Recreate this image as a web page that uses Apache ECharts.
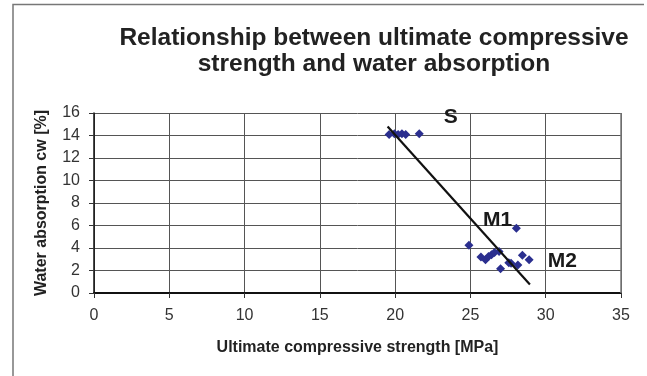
<!DOCTYPE html>
<html><head><meta charset="utf-8">
<script src="https://cdn.jsdelivr.net/npm/echarts@6/dist/echarts.min.js"></script>
<style>html,body{margin:0;padding:0;background:#fff}#c{width:647px;height:376px}</style>
</head><body><div id="c"></div>
<script>
const titleText = 'Relationship between ultimate compressive\nstrength and water absorption';
const xName = 'Ultimate compressive strength [MPa]';
const yName = 'Water absorption cw [%]';
const xTicks = [0, 5, 10, 15, 20, 25, 30, 35];
const yTicks = [0, 2, 4, 6, 8, 10, 12, 14, 16];
// S group points [strength, absorption]
const groupS = [[19.6, 14.1], [19.95, 14.15], [20.2, 14.1], [20.45, 14.15], [20.7, 14.1], [21.6, 14.15]];
// M group points
const groupM = [[24.9, 4.25], [25.7, 3.2], [26.0, 2.95], [26.2, 3.25], [26.4, 3.4], [26.6, 3.6], [26.9, 3.7], [27.0, 2.15], [27.55, 2.7], [27.7, 2.65], [28.05, 5.75], [28.15, 2.5], [28.45, 3.35], [28.9, 2.95]];
// trend line end points
const trend = [[19.5, 14.8], [28.95, 0.75]];
// group labels
const groupLabels = [{name: 'S', value: [23.7, 15.6]}, {name: 'M1', value: [26.8, 6.45]}, {name: 'M2', value: [31.1, 2.8]}];

const chart = echarts.init(document.getElementById('c'));
const F = 'Liberation Sans, Arial, sans-serif';
chart.setOption({
  animation: false,
  title: {text: titleText, left: 369, textAlign: 'center', top: 20,
    textStyle: {fontFamily: F, fontSize: 24.5, fontWeight: 'bold', color: '#222', lineHeight: 26}},
  grid: {left: 94, top: 113, right: 26, bottom: 83},
  graphic: [{type: 'polyline', shape: {points: [[13, 380], [13, 4.5], [644, 4.5]]}, style: {stroke: '#777', lineWidth: 1.5, fill: null}}],
  xAxis: {type: 'value', min: 0, max: 35, interval: 5,
    name: xName, nameLocation: 'middle', nameGap: 47,
    nameTextStyle: {fontFamily: F, fontSize: 16, fontWeight: 'bold', color: '#222'},
    axisLine: {show: true, lineStyle: {color: '#111', width: 2}},
    axisTick: {show: true, length: 5, lineStyle: {color: '#333'}},
    axisLabel: {fontFamily: F, fontSize: 16, color: '#333', margin: 15,
      formatter: v => xTicks.includes(v) ? String(v) : ''},
    splitLine: {show: true, lineStyle: {color: '#555', width: 1}}},
  yAxis: {type: 'value', min: 0, max: 16, interval: 2,
    name: yName, nameLocation: 'middle', nameGap: 44,
    nameTextStyle: {fontFamily: F, fontSize: 16, fontWeight: 'bold', color: '#222'},
    axisLine: {show: true, lineStyle: {color: '#111', width: 1.5}},
    axisTick: {show: true, length: 5, lineStyle: {color: '#333'}},
    axisLabel: {fontFamily: F, fontSize: 16, color: '#333', margin: 14,
      formatter: v => yTicks.includes(v) ? String(v) : ''},
    splitLine: {show: true, lineStyle: {color: '#555', width: 1}}},
  series: [
    {type: 'scatter', data: groupS, symbol: 'diamond', symbolSize: 9, itemStyle: {color: '#2B2F8F', opacity: 1}, z: 3},
    {type: 'scatter', data: groupM, symbol: 'diamond', symbolSize: 9, itemStyle: {color: '#2B2F8F', opacity: 1}, z: 3},
    {type: 'line', data: trend, symbol: 'none', lineStyle: {color: '#111', width: 2.2}, z: 4},
    {type: 'scatter', data: groupLabels, symbolSize: 0, z: 5, itemStyle: {opacity: 1},
      label: {show: true, position: 'inside', formatter: p => p.name,
        fontFamily: F, fontSize: 21, fontWeight: 'bold', color: '#1a1a1a'}},
    {type: 'line', data: [], markLine: {silent: true, symbol: 'none', label: {show: false},
      lineStyle: {color: '#777', type: 'solid', width: 1.5}, data: [{xAxis: 35}]}}
  ]
});
</script></body></html>
